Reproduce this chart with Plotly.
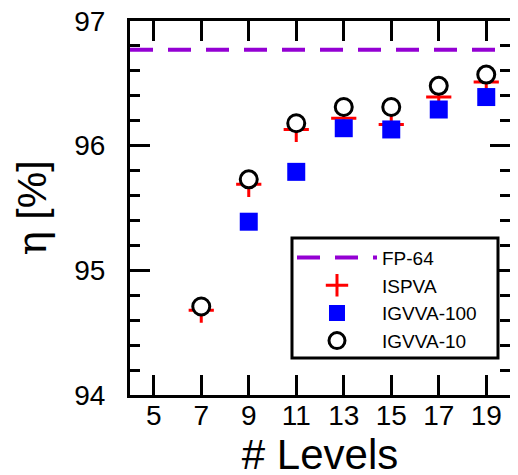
import plotly.graph_objects as go

levels = [7, 9, 11, 13, 15, 17, 19]
ispva = [94.68, 95.69, 96.13, 96.22, 96.17, 96.39, 96.51]
igvva100 = [None, 95.39, 95.79, 96.14, 96.13, 96.29, 96.39]
igvva10 = [94.71, 95.73, 96.18, 96.31, 96.31, 96.48, 96.57]
fp64_x = [4, 20]
fp64_value = 96.77
x_range = [4, 20]
x_ticks = [5, 7, 9, 11, 13, 15, 17, 19]
y_ticks = [94, 95, 96, 97]

FONT = "Liberation Sans, Arial, sans-serif"

fig = go.Figure()
fig.add_trace(go.Scatter(
    x=fp64_x, y=[fp64_value] * len(fp64_x), mode="lines", name="FP-64",
    line=dict(color="#9400D3", width=4, dash="23px,15px")))
fig.add_trace(go.Scatter(
    x=levels, y=ispva, mode="markers", name="ISPVA",
    marker=dict(symbol="cross-thin", size=18, line=dict(color="#FF0000", width=3), color="#FF0000")))
fig.add_trace(go.Scatter(
    x=levels, y=igvva100, mode="markers", name="IGVVA-100",
    marker=dict(symbol="square", size=18, color="#0000FF", line=dict(width=0))))
fig.add_trace(go.Scatter(
    x=levels, y=igvva10, mode="markers", name="IGVVA-10",
    marker=dict(symbol="circle", size=17, color="white", line=dict(color="black", width=3))))

axis_common = dict(
    showline=True, linecolor="black", linewidth=3,
    ticks="inside", ticklen=20, tickwidth=3, tickcolor="black",
    showgrid=False, zeroline=False, automargin=False,
    ticklabeloverflow="allow",
    tickfont=dict(family=FONT, size=28, color="black"),
)

fig.update_layout(
    xaxis=dict(
        range=x_range, tickvals=x_ticks, ticktext=[str(v) for v in x_ticks],
        ticklabelstandoff=-7, mirror="ticks",
        title=dict(text="# Levels", font=dict(family=FONT, size=42, color="black"), standoff=0),
        **axis_common),
    yaxis=dict(
        range=[94, 97], tickvals=y_ticks, ticktext=[str(v) for v in y_ticks],
        ticklabelstandoff=16, mirror="ticks",
        minor=dict(dtick=0.2, ticks="inside", ticklen=10, tickwidth=3, tickcolor="black", showgrid=False),
        title=dict(text="<span style=\"font-family:DejaVu Serif\">η</span> [%]",
                   font=dict(family=FONT, size=41, color="black")),
        **axis_common),
)

# legend frame
fig.add_shape(type="rect", xref="paper", yref="paper",
              x0=0.4263, x1=0.9684, y0=0.0989, y1=0.4198,
              line=dict(color="black", width=3), fillcolor="white", layer="above")

fig.update_layout(
    width=510, height=472,
    margin=dict(l=122, r=8, t=13, b=85),
    paper_bgcolor="white", plot_bgcolor="white",
    showlegend=True,
    modebar=dict(bgcolor="rgba(0,0,0,0)"),
    legend=dict(
        x=0.4263, y=0.418, xanchor="left", yanchor="top",
        bgcolor="rgba(0,0,0,0)", borderwidth=0,
        font=dict(family=FONT, size=19, color="black"),
        tracegroupgap=0, itemwidth=80,
    ),
)

fig.write_html("out.html")
